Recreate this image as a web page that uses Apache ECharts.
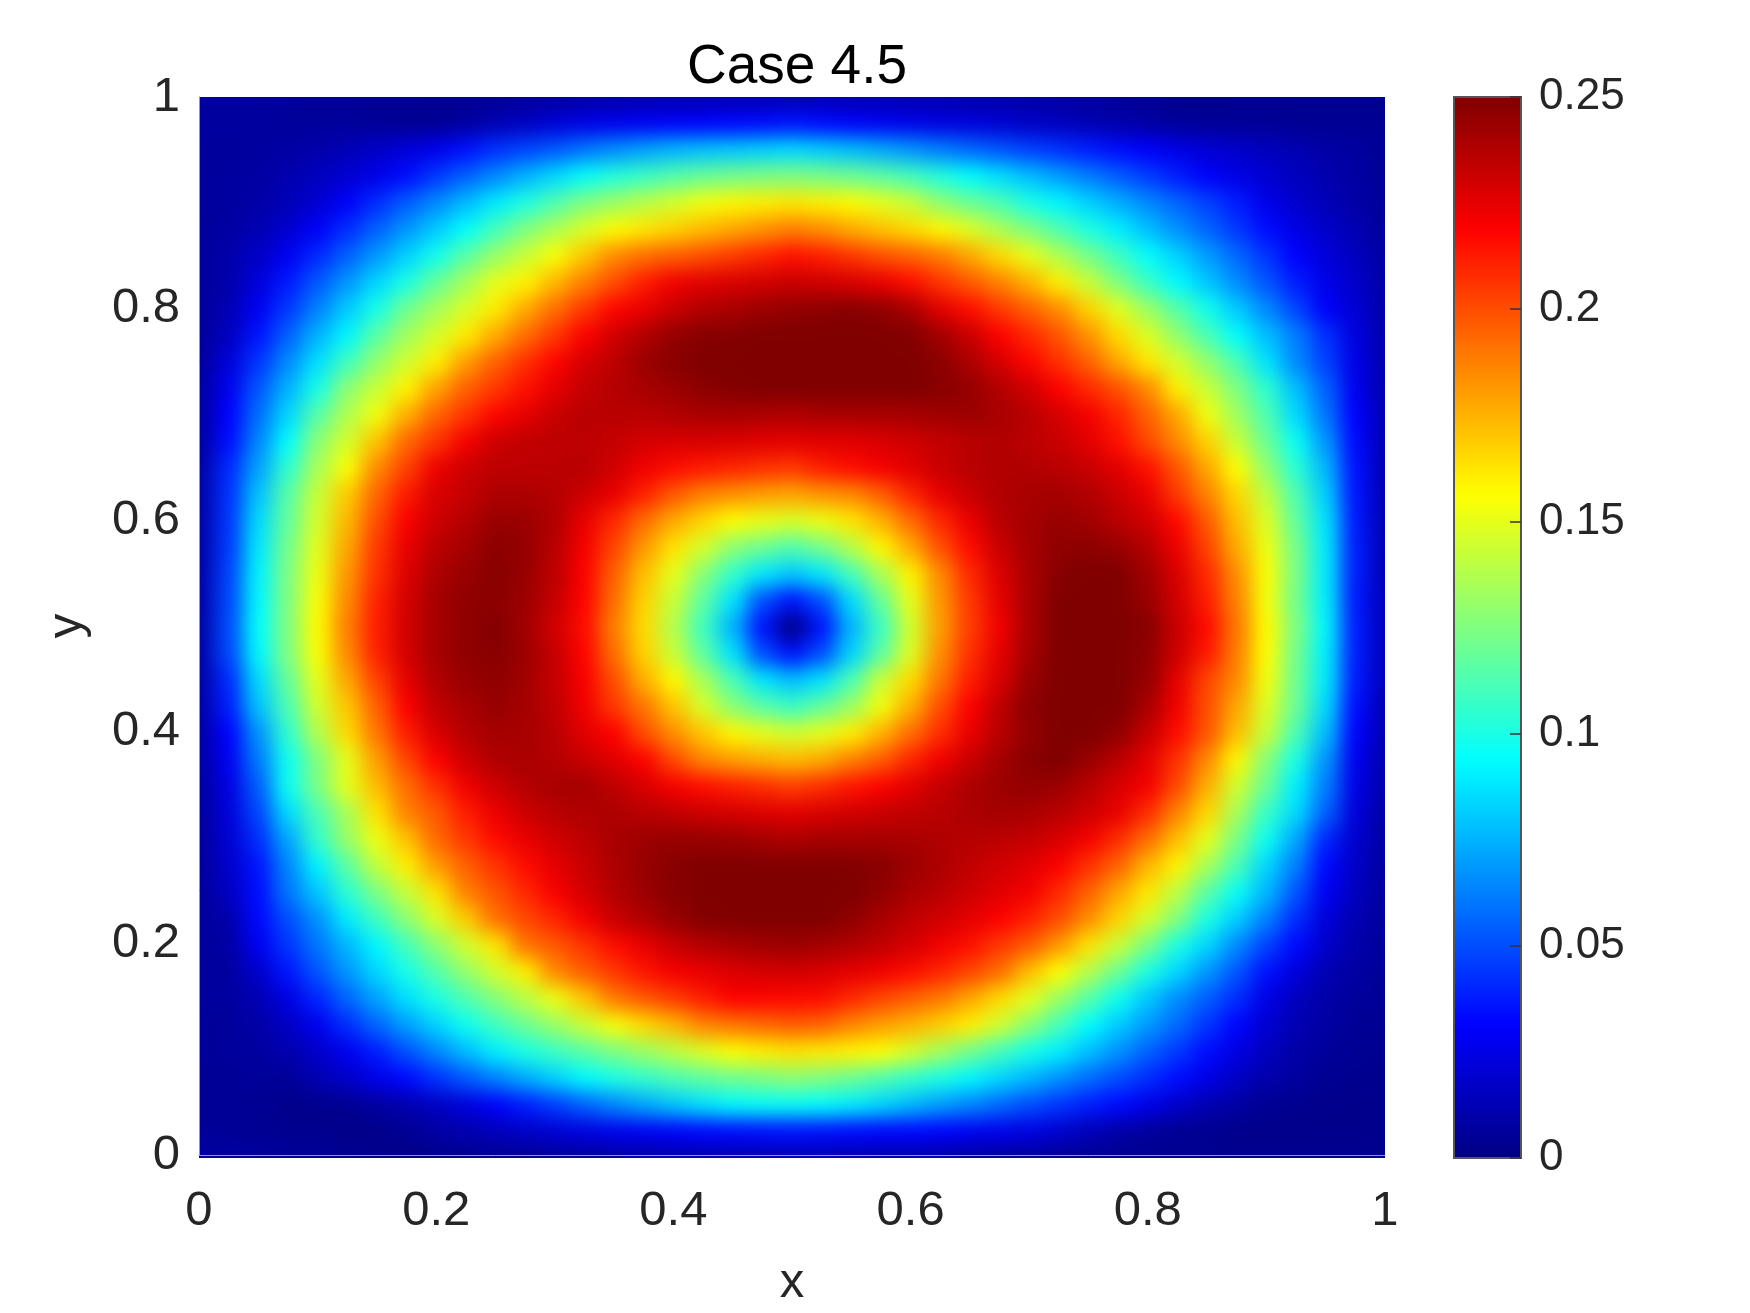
<!DOCTYPE html>
<html><head><meta charset="utf-8">
<style>html,body{margin:0;padding:0;background:#fff}#c{width:1750px;height:1313px}</style>
<script src="https://cdn.jsdelivr.net/npm/echarts@6/dist/echarts.min.js"></script>
</head><body><div id="c"></div>
<script>
const title = 'Case 4.5';
const xName = 'x';
const yName = 'y';
const jetStops = ['#000083','#0000ff','#0080ff','#00ffff','#80ff80','#ffff00','#ff8000','#ff0000','#800000'];
const valueScale = 1000;      // rows hold thousandths of the plotted value
const colorMax = 0.25;
// rows, top (y=1) to bottom (y=0), left (x=0) to right (x=1), step 0.025
const r00=[7,7,6,6,5,5,4,4,3,4,4,5,6,7,8,9,10,10,11,11,12,12,11,11,10,10,9,9,8,7,6,5,4,2,2,3,3,3,3,3,3];
const r01=[7,7,7,6,6,6,5,4,4,7,12,16,21,25,27,29,30,31,32,33,35,33,30,28,26,24,22,20,17,15,12,10,8,6,5,5,5,4,4,4,4];
const r02=[6,6,7,8,10,13,17,22,27,35,43,48,53,60,66,71,76,79,81,83,85,82,78,73,68,62,57,52,47,43,38,34,30,25,21,18,15,12,9,7,5];
const r03=[6,7,8,11,15,20,26,34,45,55,65,75,85,95,102,108,114,119,122,124,125,123,120,116,110,102,94,86,78,70,62,54,46,38,30,25,20,15,11,8,5];
const r04=[6,7,9,13,20,30,42,54,65,77,89,101,113,125,132,139,146,153,158,160,162,160,157,150,143,129,120,112,100,92,83,74,65,56,47,38,26,19,13,9,5];
const r05=[6,8,12,19,30,42,55,68,81,94,110,125,136,147,157,162,167,173,178,183,188,184,177,171,165,158,148,136,125,113,101,90,78,67,56,45,34,25,18,12,6];
const r06=[6,10,17,28,41,55,69,83,98,116,131,143,155,170,185,192,196,200,205,210,215,212,206,200,195,189,178,165,151,137,123,109,95,83,70,57,44,31,22,15,8];
const r07=[6,10,22,37,53,68,84,100,119,134,150,159,174,188,200,212,222,226,228,230,232,230,228,224,216,206,197,187,175,160,143,125,108,93,80,66,52,38,26,18,9];
const r08=[6,12,28,45,63,81,99,121,134,147,161,177,192,205,218,224,232,238,240,243,245,247,248,246,240,226,216,205,195,184,167,149,132,115,98,81,65,48,30,20,10];
const r09=[6,15,36,55,75,92,116,133,146,161,177,192,205,219,230,238,245,248,249,250,250,250,250,250,249,242,232,219,209,198,183,165,148,130,112,94,78,62,43,23,10];
const r10=[6,22,44,65,86,109,130,145,160,180,195,207,218,229,235,243,248,251,252,252,252,252,252,252,252,247,239,229,218,207,195,178,162,146,130,112,87,65,47,25,11];
const r11=[7,27,52,75,99,128,143,159,179,195,205,215,225,233,237,240,243,247,249,250,250,250,250,250,250,248,245,238,230,219,209,199,185,160,143,125,105,78,55,27,11];
const r12=[7,31,58,84,115,137,153,176,194,206,218,225,232,236,236,236,238,240,240,239,238,240,240,240,241,242,243,240,236,229,221,210,195,178,153,133,113,85,60,31,12];
const r13=[7,34,64,94,128,146,171,193,206,221,231,234,235,235,233,229,228,228,227,226,225,226,226,228,230,233,236,238,235,232,226,215,201,185,167,143,120,96,68,33,12];
const r14=[8,41,71,105,135,155,185,203,223,231,235,235,235,236,230,222,216,213,210,207,205,212,216,221,226,232,236,238,238,236,232,226,215,198,178,156,130,104,76,35,12];
const r15=[8,43,79,115,143,169,194,213,228,233,239,239,237,231,224,211,197,187,183,180,178,182,185,195,210,224,232,238,240,241,238,232,224,205,187,166,141,113,82,36,12];
const r16=[8,44,85,118,146,174,200,220,231,237,244,243,238,224,209,192,177,166,156,151,147,152,162,175,192,209,224,236,241,244,242,236,230,217,197,172,148,118,87,37,12];
const r17=[8,45,88,122,149,178,205,224,236,241,247,245,236,221,202,181,163,146,128,120,113,122,138,158,177,199,216,232,241,246,247,244,237,223,203,177,152,123,89,38,13];
const r18=[8,47,91,124,152,182,207,227,239,244,248,244,235,219,195,172,150,127,106,88,80,88,110,135,159,185,209,227,240,248,250,250,242,228,209,184,155,124,89,38,13];
const r19=[8,48,92,125,155,185,211,229,241,246,247,243,233,218,192,167,143,117,87,50,35,50,85,118,150,182,205,225,240,250,250,250,244,230,212,187,154,122,90,37,14];
const r20=[8,49,94,125,157,188,212,230,240,246,249,242,230,216,188,165,138,109,75,35,0,35,75,108,145,180,204,222,240,250,250,250,248,232,217,190,157,125,92,38,14];
const r21=[8,48,92,125,155,185,211,229,241,246,248,243,233,218,192,167,143,117,87,50,35,50,83,116,148,184,207,225,241,250,250,250,246,231,213,188,156,122,90,38,14];
const r22=[8,41,85,118,150,178,203,225,238,244,246,242,233,220,200,176,158,135,112,88,78,87,112,143,165,190,212,228,244,250,251,250,245,225,202,185,153,121,89,37,14];
const r23=[8,38,79,112,145,170,195,219,234,240,244,241,234,222,205,190,171,147,128,116,108,118,132,153,176,200,219,235,247,250,251,250,240,222,200,178,148,120,85,34,12];
const r24=[8,31,67,105,137,165,190,212,228,237,241,240,236,226,219,200,184,170,158,150,145,150,160,175,192,208,224,236,245,250,250,246,233,216,198,172,143,112,78,31,12];
const r25=[8,28,61,97,125,150,180,202,219,231,238,240,237,232,226,219,201,186,180,176,173,177,187,196,210,222,232,241,248,250,244,236,225,207,185,158,127,100,68,27,11];
const r26=[7,24,54,97,124,150,173,192,207,222,231,237,240,241,235,228,221,216,212,208,204,208,214,219,226,233,239,243,245,243,236,228,221,201,176,145,120,90,62,25,10];
const r27=[6,22,48,85,112,135,163,187,197,212,223,231,236,238,239,236,234,231,229,227,226,228,230,232,234,236,239,241,240,236,231,224,208,186,166,135,107,85,55,22,9];
const r28=[6,20,42,72,106,131,152,171,193,205,216,224,230,235,240,243,244,244,243,241,239,241,241,241,240,238,237,235,233,228,221,208,192,172,150,124,97,72,40,19,8];
const r29=[6,18,36,64,91,116,141,160,180,195,206,216,225,232,239,244,248,250,250,250,250,250,249,248,243,239,234,230,226,219,207,194,174,159,135,112,84,62,33,17,8];
const r30=[6,15,34,60,80,104,124,142,163,187,198,209,220,229,237,243,248,251,252,252,252,252,251,246,240,236,231,226,221,209,195,178,162,140,116,96,76,52,28,15,7];
const r31=[6,10,33,50,67,89,109,128,147,169,191,201,210,221,232,238,244,249,252,252,252,250,246,240,234,230,225,219,211,200,184,167,146,126,100,82,63,42,22,12,6];
const r32=[6,8,28,44,60,76,92,110,128,145,162,190,197,206,216,224,232,237,240,242,243,241,238,234,229,222,215,205,196,181,163,143,123,100,84,65,47,33,18,10,6];
const r33=[6,7,18,36,52,68,84,99,114,130,145,160,185,196,205,214,221,224,227,229,230,228,225,222,216,210,202,192,172,156,138,120,100,84,68,52,35,22,12,8,5];
const r34=[6,7,12,24,40,56,71,86,100,113,126,139,152,170,189,197,204,212,219,218,217,216,209,202,195,189,178,165,150,132,115,97,80,66,54,42,25,15,9,6,5];
const r35=[5,6,9,16,27,42,56,70,83,97,109,120,131,143,154,165,174,186,190,193,196,194,186,180,175,168,160,145,128,111,94,81,69,57,44,32,20,12,8,5,4];
const r36=[5,6,7,11,18,27,38,51,64,77,90,100,108,116,124,132,140,148,156,160,163,161,159,156,146,134,122,110,99,90,78,67,55,45,34,24,15,9,6,4,3];
const r37=[5,5,6,5,12,18,26,33,43,53,63,73,83,93,100,106,112,117,121,124,128,125,120,113,106,100,92,84,76,67,58,50,42,34,25,17,10,7,4,3,3];
const r38=[5,5,4,2,2,4,7,11,16,22,30,38,46,55,64,72,80,87,93,95,95,94,90,84,77,70,64,57,50,44,38,33,26,18,12,8,4,3,2,2,3];
const r39=[5,5,4,3,3,1,2,4,8,11,14,17,20,23,26,28,30,32,33,34,35,34,33,32,32,31,28,26,24,19,13,9,6,4,3,2,2,2,2,2,3];
const r40=[8,8,7,6,5,4,2,1,2,3,4,5,6,7,8,9,10,10,11,11,12,12,11,10,10,9,8,7,6,5,5,4,4,4,4,3,3,3,3,3,3];
const rows=[r00,r01,r02,r03,r04,r05,r06,r07,r08,r09,r10,r11,r12,r13,r14,r15,r16,r17,r18,r19,r20,r21,r22,r23,r24,r25,r26,r27,r28,r29,r30,r31,r32,r33,r34,r35,r36,r37,r38,r39,r40];

const N = rows.length;
const cats = rows.map((_, k) => k);
const data = [];
rows.forEach((row, r) => row.forEach((v, c) => data.push([c, N - 1 - r, Math.min(v / valueScale, colorMax)])));

// plot frame in page pixels
const L = 199, T = 97, W = 1186, H = 1061;
const cellW = W / (N - 1), cellH = H / (N - 1);
const font = '"Liberation Sans", Arial, sans-serif';
const tickColor = '#262626';

const chart = echarts.init(document.getElementById('c'), null, {renderer: 'canvas'});
chart.setOption({
  animation: false,
  backgroundColor: 'transparent',
  title: {text: title, left: L + W / 2, top: 35, textAlign: 'center', zlevel: 1,
    textStyle: {fontFamily: font, fontSize: 55, fontWeight: 'normal', color: '#000'}},
  grid: [
    {left: L - cellW / 2, top: T - cellH / 2, width: W + cellW, height: H + cellH, zlevel: 0},
    {left: L, top: T, width: W, height: H, zlevel: 1},
    {left: 1454, top: T, width: 67, height: H, zlevel: 1, z: 10, show: true, borderColor: '#555', borderWidth: 2, backgroundColor: 'transparent'}
  ],
  xAxis: [
    {type: 'category', gridIndex: 0, data: cats, show: false},
    {type: 'value', gridIndex: 1, min: 0, max: 1, interval: 0.2, zlevel: 1, splitLine: {show: false},
      name: xName, nameLocation: 'middle', nameGap: 104,
      nameTextStyle: {fontFamily: font, fontSize: 49, color: tickColor},
      axisLine: {show: true, onZero: false, lineStyle: {color: '#999', width: 1}}, axisTick: {show: false},
      axisLabel: {fontFamily: font, fontSize: 49, color: tickColor, margin: 32, hideOverlap: false}},
    {type: 'value', gridIndex: 2, min: 0, max: 1, show: false}
  ],
  yAxis: [
    {type: 'category', gridIndex: 0, data: cats, show: false},
    {type: 'value', gridIndex: 1, min: 0, max: 1, interval: 0.2, zlevel: 1, splitLine: {show: false},
      name: yName, nameLocation: 'middle', nameGap: 107, nameRotate: 90,
      nameTextStyle: {fontFamily: font, fontSize: 49, color: tickColor},
      axisLine: {show: true, onZero: false, lineStyle: {color: '#999', width: 1}}, axisTick: {show: false},
      axisLabel: {fontFamily: font, fontSize: 49, color: tickColor, margin: 19, verticalAlign: 'middle', padding: [14, 0, 0, 0]}},
    {type: 'value', gridIndex: 2, position: 'right', min: 0, max: colorMax, interval: 0.05, zlevel: 1, z: 11, splitLine: {show: false},
      axisLine: {show: true, onZero: false, lineStyle: {color: '#555', width: 2}},
      axisTick: {show: true, inside: true, length: 11, lineStyle: {color: '#333', width: 1.5}},
      axisLabel: {fontFamily: font, fontSize: 44, color: tickColor, margin: 18, verticalAlign: 'middle', padding: [14, 0, 0, 0]}}
  ],
  visualMap: {
    type: 'continuous', seriesIndex: 0, dimension: 2, min: 0, max: colorMax, zlevel: 1, z: 5,
    calculable: false, realtime: false, hoverLink: false,
    orient: 'vertical', left: 1454, top: T, itemWidth: 67, itemHeight: H, padding: 0, itemGap: 0,
    text: ['', ''], inRange: {color: jetStops}
  },
  series: [{
    type: 'heatmap', xAxisIndex: 0, yAxisIndex: 0, data, zlevel: 0,
    progressive: 0, silent: true, emphasis: {disabled: true}, itemStyle: {borderWidth: 0}
  }]
});

// Smooth the field layer only (the bottom canvas) and trim it to the plot frame.
const fieldCanvas = document.querySelector('#c canvas');
fieldCanvas.style.backgroundColor = '#00008f';
fieldCanvas.style.filter = 'blur(10px)';
fieldCanvas.style.clipPath = `inset(${T}px ${1750 - L - W}px ${1313 - T - H}px ${L}px)`;
</script></body></html>
